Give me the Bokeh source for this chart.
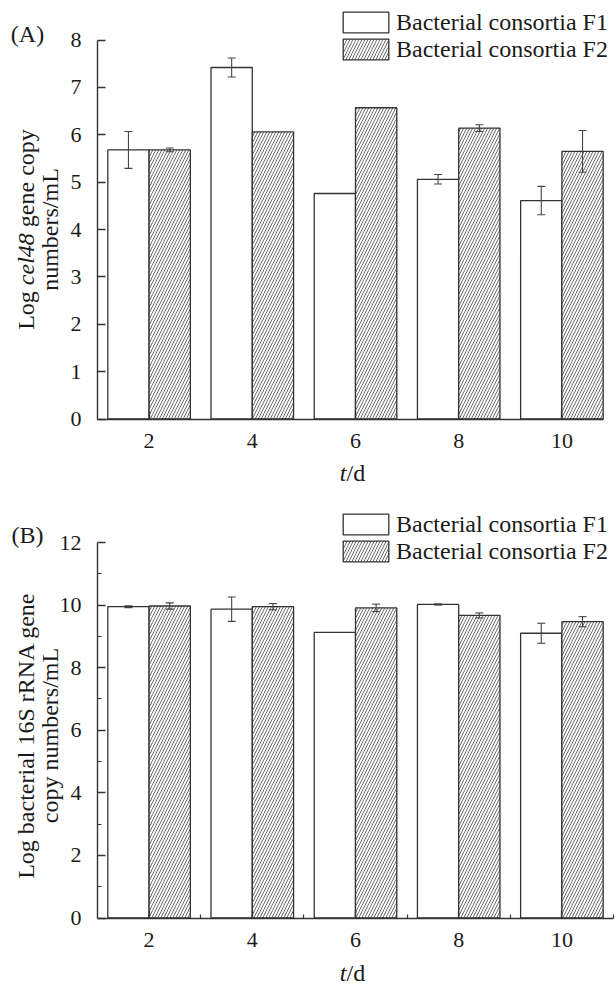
import numpy as np
from bokeh.plotting import figure
from bokeh.models import (ColumnDataSource, Whisker, TeeHead, Label, Legend,
                          LegendItem, FixedTicker, Range1d)
from bokeh.layouts import column
from bokeh.embed import file_html
from bokeh.resources import INLINE

# ---------------- data ----------------
days = [2, 4, 6, 8, 10]
series_names = ["Bacterial consortia F1", "Bacterial consortia F2"]

cel48_f1 = [5.68, 7.42, 4.76, 5.06, 4.61]
cel48_f1_err = [0.39, 0.20, 0.0, 0.10, 0.30]
cel48_f2 = [5.68, 6.06, 6.57, 6.14, 5.65]
cel48_f2_err = [0.04, 0.0, 0.0, 0.07, 0.44]

s16_f1 = [9.95, 9.87, 9.13, 10.02, 9.10]
s16_f1_err = [0.03, 0.39, 0.0, 0.02, 0.32]
s16_f2 = [9.97, 9.95, 9.91, 9.67, 9.47]
s16_f2_err = [0.10, 0.10, 0.12, 0.08, 0.16]

x_ticks = [2, 4, 6, 8, 10]
x_minor_b = [3, 5, 7, 9, 11]
y_ticks_a = [0, 1, 2, 3, 4, 5, 6, 7, 8]
y_ticks_b = [0, 2, 4, 6, 8, 10, 12]
y_minor_b = [1, 3, 5, 7, 9, 11]

# ---------------- layout / style ----------------
FONT = "Liberation Serif"
LINE = "#333333"
TXT = "#1a1a1a"
W = 616
AX_X = 97.0        # page x of the y axis (day = 1)
PX_DAY = 51.6      # pixels per day


def make_panel(height, page_top, ax_y_page, top_y_page, y_max, x_end,
               y_ticks, y_minor, x_minor):
    # frame covers the whole figure; axes are pinned with fixed_location
    ax_local = ax_y_page - page_top
    top_local = top_y_page - page_top
    k = (ax_local - top_local) / y_max
    y_rng = Range1d(-(height - ax_local) / k, y_max + top_local / k)
    x_rng = Range1d(1 - AX_X / PX_DAY, 1 + (W - AX_X) / PX_DAY)
    p = figure(width=W, height=height, x_range=x_rng, y_range=y_rng,
               output_backend="svg", toolbar_location=None,
               min_border=0, min_border_left=0, min_border_right=0,
               min_border_top=0, min_border_bottom=0)
    p.title.visible = False
    p.grid.visible = False
    p.outline_line_color = None
    p.background_fill_color = "white"
    p.border_fill_color = "white"
    xa, ya = p.xaxis[0], p.yaxis[0]
    xa.fixed_location = 0
    ya.fixed_location = 1
    xa.bounds = (1, x_end)
    ya.bounds = (0, y_max)
    for ax in (xa, ya):
        ax.axis_line_color = LINE
        ax.axis_line_width = 1.4
        ax.major_tick_line_color = LINE
        ax.major_tick_line_width = 1.3
        ax.major_tick_in = 8
        ax.major_tick_out = 0
        ax.minor_tick_line_color = LINE
        ax.minor_tick_line_width = 1.2
        ax.minor_tick_in = 4
        ax.minor_tick_out = 0
        ax.major_label_text_font = FONT
        ax.major_label_text_font_size = "22px"
        ax.major_label_text_color = TXT
    xa.ticker = FixedTicker(ticks=x_ticks, minor_ticks=x_minor)
    ya.ticker = FixedTicker(ticks=y_ticks, minor_ticks=y_minor)
    xa.major_label_standoff = 15
    ya.major_label_standoff = 16
    if not x_minor:
        xa.minor_tick_line_color = None
    if not y_minor:
        ya.minor_tick_line_color = None
    return p


def add_bars(p, f1, f1e, f2, f2e):
    d = np.array(days, dtype=float)
    src = ColumnDataSource(dict(x1=d - 0.4, x2=d + 0.4, f1=f1, f2=f2))
    r1 = p.vbar(x="x1", top="f1", width=0.8, bottom=0, source=src,
                fill_color="white", line_color=LINE, line_width=1.3)
    r2 = p.vbar(x="x2", top="f2", width=0.8, bottom=0, source=src,
                fill_color="white", line_color=LINE, line_width=1.3,
                hatch_pattern="right_diagonal_line", hatch_scale=6,
                hatch_weight=0.8, hatch_color="#444444")
    for xs, ys, es in ((d - 0.4, f1, f1e), (d + 0.4, f2, f2e)):
        idx = [i for i, e in enumerate(es) if e > 0]
        s = ColumnDataSource(dict(x=[xs[i] for i in idx],
                                  lo=[ys[i] - es[i] for i in idx],
                                  hi=[ys[i] + es[i] for i in idx]))
        w = Whisker(source=s, base="x", lower="lo", upper="hi",
                    line_color="#444444", line_width=1.1, level="overlay",
                    upper_head=TeeHead(size=8, line_color="#444444", line_width=1.1),
                    lower_head=TeeHead(size=8, line_color="#444444", line_width=1.1))
        p.add_layout(w)
    return r1, r2


def add_legend(p, r1, r2, height, page_top, page_left, page_bottom):
    leg = Legend(items=[LegendItem(label=series_names[0], renderers=[r1]),
                        LegendItem(label=series_names[1], renderers=[r2])],
                 location=(page_left, height - (page_bottom - page_top)),
                 glyph_width=57, glyph_height=26, label_height=25,
                 label_standoff=2, spacing=0, padding=0, margin=0,
                 border_line_color=None, background_fill_alpha=0,
                 label_text_font=FONT, label_text_font_size="24px",
                 label_text_color=TXT)
    p.add_layout(leg)


def make_txt(p, height, page_top):
    def txt(px, py, s, size="24px", style="normal", align="center", angle=0.0):
        p.add_layout(Label(x=px, y=height - (py - page_top), x_units="screen",
                           y_units="screen", text=s, text_font=FONT,
                           text_font_size=size, text_font_style=style,
                           text_color=TXT, text_align=align,
                           text_baseline="middle", angle=angle))
    return txt


FS = 24.0
def em(u):
    return u * FS / 1000.0


# ---------------- panel A ----------------
HA, TA = 490, 0
pa = make_panel(HA, TA, 418.5, 39.5, 8, 10.8, y_ticks_a, [], [])
a1, a2 = add_bars(pa, cel48_f1, cel48_f1_err, cel48_f2, cel48_f2_err)
add_legend(pa, a1, a2, HA, TA, 337, 62.5)
ta = make_txt(pa, HA, TA)
ta(27, 33, "(A)")
x0 = 352 - em(1056) / 2
ta(x0, 472, "t", style="italic", align="left")
ta(x0 + em(278), 472, "/d", align="left")
yc = 229
ystart = yc + em(8359) / 2
ta(25, ystart, "Log", align="left", angle=np.pi / 2)
ta(25, ystart - em(1861), "cel48", style="italic", align="left", angle=np.pi / 2)
ta(25, ystart - em(1861 + 2166 + 250), "gene copy", align="left", angle=np.pi / 2)
ta(49, yc, "numbers/mL", angle=np.pi / 2)

# ---------------- panel B ----------------
HB, TB = 495, 490
pb = make_panel(HB, TB, 917.5, 542, 12, 11.0, y_ticks_b, y_minor_b, x_minor_b)
b1, b2 = add_bars(pb, s16_f1, s16_f1_err, s16_f2, s16_f2_err)
add_legend(pb, b1, b2, HB, TB, 337, 564.5)
tb = make_txt(pb, HB, TB)
tb(27, 534, "(B)")
tb(x0, 972, "t", style="italic", align="left")
tb(x0 + em(278), 972, "/d", align="left")
ycb = 735
tb(25, ycb, "Log bacterial 16S rRNA gene", angle=np.pi / 2)
tb(49, ycb, "copy numbers/mL", angle=np.pi / 2)

layout = column(pa, pb, spacing=0)
open("out.html", "w").write(file_html(layout, INLINE))
